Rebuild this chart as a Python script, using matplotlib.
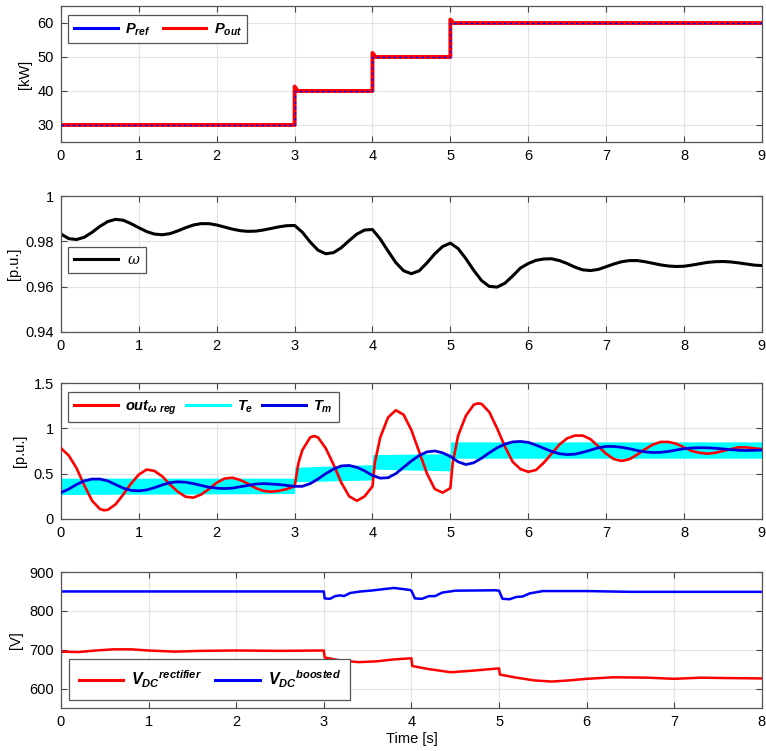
import numpy as np
import matplotlib
matplotlib.use("Agg")
import matplotlib.pyplot as plt

plt.rcParams['font.family'] = ['Liberation Sans', 'DejaVu Sans']
plt.rcParams['mathtext.fontset'] = 'custom'
plt.rcParams['mathtext.it'] = 'Liberation Sans:italic:bold'
plt.rcParams['mathtext.rm'] = 'Liberation Sans:bold'
plt.rcParams['mathtext.cal'] = 'DejaVu Serif:italic'

# power reference / output [kW]
p_t = [0, 3, 3, 4, 4, 5, 5, 9]
p_ref = [30, 30, 40, 40, 50, 50, 60, 60]
pout_t = [0, 3, 3, 3.02, 3.04, 4, 4, 4.02, 4.04, 5, 5, 5.02, 5.04, 9]
p_out = [30, 30, 41.3, 40.6, 40, 40, 51.2, 50.6, 50, 50, 61.0, 60.5, 60, 60]

# rotor speed [p.u.]
w_t = np.round(np.arange(0, 9.01, 0.1), 2)
w_val = [0.9832, 0.9812, 0.9808, 0.9818, 0.9840, 0.9866, 0.9887, 0.9897, 0.9893, 0.9878,
         0.9860, 0.9843, 0.9832, 0.9829, 0.9834, 0.9846, 0.9860, 0.9872, 0.9878, 0.9878,
         0.9872, 0.9863, 0.9854, 0.9847, 0.9844, 0.9845, 0.9850, 0.9857, 0.9864, 0.9869,
         0.9870, 0.9840, 0.9797, 0.9761, 0.9745, 0.9750, 0.9772, 0.9803, 0.9832, 0.9850,
         0.9852, 0.9810, 0.9757, 0.9706, 0.9670, 0.9657, 0.9670, 0.9705, 0.9745, 0.9777,
         0.9792, 0.9768, 0.9723, 0.9672, 0.9627, 0.9601, 0.9598, 0.9615, 0.9647, 0.9682,
         0.9702, 0.9716, 0.9722, 0.9723, 0.9715, 0.9702, 0.9686, 0.9674, 0.9671, 0.9676,
         0.9688, 0.9700, 0.9710, 0.9715, 0.9715, 0.9710, 0.9703, 0.9696, 0.9691, 0.9689,
         0.9690, 0.9695, 0.9701, 0.9707, 0.9710, 0.9711, 0.9709, 0.9705, 0.9700, 0.9695,
         0.9693]

# speed regulator output [p.u.]
reg_t = [0, 0.1, 0.2, 0.3, 0.4, 0.5, 0.55, 0.6, 0.7, 0.8, 0.9, 1.0, 1.1, 1.2, 1.3, 1.4,
         1.5, 1.6, 1.7, 1.8, 1.9, 2.0, 2.1, 2.2, 2.3, 2.4, 2.5, 2.6, 2.7, 2.8, 2.9, 3.0,
         3.05, 3.1, 3.2, 3.25, 3.3, 3.4, 3.5, 3.6, 3.7, 3.8, 3.9, 4.0,
         4.03, 4.1, 4.2, 4.3, 4.4, 4.5, 4.6, 4.7, 4.8, 4.9, 5.0,
         5.03, 5.1, 5.2, 5.3, 5.35, 5.4, 5.5, 5.6, 5.7, 5.8, 5.9, 6.0, 6.1, 6.2, 6.3,
         6.4, 6.5, 6.6, 6.7, 6.8, 6.9, 7.0, 7.1, 7.2, 7.3, 7.4, 7.5, 7.6, 7.7, 7.8,
         7.9, 8.0, 8.1, 8.2, 8.3, 8.4, 8.5, 8.6, 8.7, 8.8, 8.9, 9.0]
reg_val = [0.78, 0.70, 0.56, 0.37, 0.20, 0.11, 0.096, 0.10, 0.16, 0.27, 0.39, 0.49, 0.545,
           0.53, 0.47, 0.38, 0.30, 0.245, 0.235, 0.27, 0.33, 0.40, 0.445, 0.455, 0.43, 0.39,
           0.34, 0.31, 0.30, 0.31, 0.33, 0.36,
           0.62, 0.76, 0.90, 0.915, 0.90, 0.78, 0.60, 0.40, 0.25, 0.20, 0.25, 0.36,
           0.62, 0.90, 1.12, 1.20, 1.15, 0.98, 0.74, 0.50, 0.33, 0.29, 0.34,
           0.62, 0.92, 1.14, 1.26, 1.275, 1.27, 1.18, 1.00, 0.80, 0.63, 0.55, 0.52, 0.54,
           0.62, 0.72, 0.82, 0.89, 0.92, 0.92, 0.88, 0.80, 0.72, 0.66, 0.64, 0.66, 0.71,
           0.77, 0.82, 0.85, 0.85, 0.83, 0.79, 0.75, 0.73, 0.72, 0.73, 0.75, 0.77, 0.79,
           0.79, 0.78, 0.77]

# electromagnetic torque ripple envelope [p.u.]
te_t = [0, 3, 3, 4, 4, 5, 5, 9]
te_lo = [0.27, 0.28, 0.41, 0.43, 0.55, 0.53, 0.67, 0.67]
te_hi = [0.45, 0.45, 0.57, 0.60, 0.71, 0.72, 0.85, 0.85]

# mechanical torque [p.u.]
tm_t = np.round(np.arange(0, 9.01, 0.1), 2)
tm_val = [0.29, 0.33, 0.38, 0.42, 0.44, 0.44, 0.42, 0.38, 0.34, 0.315,
          0.31, 0.32, 0.345, 0.375, 0.40, 0.41, 0.405, 0.39, 0.37, 0.35,
          0.34, 0.335, 0.34, 0.355, 0.37, 0.385, 0.39, 0.385, 0.38, 0.37,
          0.36, 0.36, 0.39, 0.44, 0.50, 0.55, 0.585, 0.59, 0.57, 0.53,
          0.48, 0.45, 0.455, 0.50, 0.57, 0.64, 0.70, 0.74, 0.75, 0.73,
          0.69, 0.63, 0.60, 0.62, 0.67, 0.73, 0.785, 0.825, 0.85, 0.855,
          0.845, 0.815, 0.78, 0.745, 0.72, 0.71, 0.715, 0.735, 0.76, 0.785,
          0.80, 0.80, 0.79, 0.775, 0.755, 0.74, 0.733, 0.735, 0.745, 0.76,
          0.775, 0.783, 0.786, 0.785, 0.78, 0.773, 0.765, 0.758, 0.755, 0.757,
          0.76]

# DC link voltages [V]
vb_t = [0, 3.0, 3.01, 3.07, 3.13, 3.19, 3.23, 3.3, 3.42, 3.53, 3.8, 3.98, 4.0,
        4.04, 4.12, 4.2, 4.27, 4.35, 4.5, 4.96, 5.0, 5.04, 5.12, 5.2, 5.27, 5.35,
        5.5, 6.0, 6.5, 7.0, 8.0]
vb_val = [850, 850, 832, 831, 838, 840, 838, 846, 850, 852, 859, 854, 852,
          832, 831, 838, 838, 847, 852, 853, 852, 831, 830, 836, 837, 845,
          851, 851, 849, 849, 849]
vr_t = [0, 0.2, 0.4, 0.6, 0.8, 1.0, 1.3, 1.6, 2.0, 2.5, 3.0, 3.01, 3.2, 3.4, 3.6,
        3.8, 4.0, 4.01, 4.2, 4.45, 4.7, 5.0, 5.01, 5.2, 5.4, 5.6, 5.8, 6.0, 6.3,
        6.7, 7.0, 7.3, 7.6, 8.0]
vr_val = [695, 694, 698, 701, 701, 698, 695, 697, 698, 697, 698, 680, 672, 668, 670,
          675, 678, 658, 650, 642, 646, 652, 636, 628, 621, 618, 621, 625, 629,
          628, 625, 628, 627, 626]

fig = plt.figure(figsize=(7.66, 7.51), dpi=100)
left, width, height = 0.0796, 0.915, 0.181
bottoms = [0.811, 0.558, 0.309, 0.0573]
axes = [fig.add_axes([left, b, width, height]) for b in bottoms]


def style(ax):
    ax.grid(True, color='#e3e3e3', lw=0.8)
    ax.set_axisbelow(True)
    ax.tick_params(direction='in', top=True, right=True, length=4, width=0.8,
                   color='#444444', labelsize=10.5, pad=5)
    for sp in ax.spines.values():
        sp.set_color('#555555')
        sp.set_linewidth(0.9)


def legend(ax, size=10.5, hlen=3.0, **kw):
    lg = ax.legend(fancybox=False, framealpha=1, edgecolor='#555555',
                   prop={'size': size}, handlelength=hlen, **kw)
    lg.get_frame().set_linewidth(0.9)
    return lg


# power
ax = axes[0]
ax.plot(pout_t, p_out, color='red', lw=2.8, zorder=2)
ax.plot(p_t, p_ref, color='blue', lw=1.0, ls=(0, (2, 2)), zorder=3)
h1, = ax.plot([], [], color='blue', lw=2.2)
h2, = ax.plot([], [], color='red', lw=2.2)
ax.set_xlim(0, 9)
ax.set_ylim(25, 65)
ax.set_yticks([30, 40, 50, 60])
ax.set_xticks(range(10))
ax.set_ylabel('[kW]', fontsize=10.5)
style(ax)
legend(ax, handles=[h1, h2], labels=[r'$P_{ref}$', r'$P_{out}$'], ncol=2,
       loc='upper left', bbox_to_anchor=(0.0, 0.985), columnspacing=0.8,
       handletextpad=0.5)

# speed
ax = axes[1]
ax.plot(w_t, w_val, color='black', lw=2.2, label=r'$\mathcal{\omega}$')
ax.set_xlim(0, 9)
ax.set_ylim(0.94, 1.0)
ax.set_yticks([0.94, 0.96, 0.98, 1.0])
ax.set_yticklabels(['0.94', '0.96', '0.98', '1'])
ax.set_xticks(range(10))
ax.set_ylabel('[p.u.]', fontsize=10.5)
style(ax)
legend(ax, loc='center left', bbox_to_anchor=(0.0, 0.53), handletextpad=0.6)

# torques
ax = axes[2]
ax.fill_between(te_t, te_lo, te_hi, color='cyan', lw=0, zorder=2)
ax.plot(reg_t, reg_val, color='red', lw=1.9, zorder=3)
ax.plot(tm_t, tm_val, color='#0000dd', lw=2.0, zorder=4)
hr, = ax.plot([], [], color='red', lw=2.2)
hc, = ax.plot([], [], color='cyan', lw=2.2)
hb, = ax.plot([], [], color='#0000dd', lw=2.2)
ax.set_xlim(0, 9)
ax.set_ylim(0, 1.5)
ax.set_yticks([0, 0.5, 1, 1.5])
ax.set_yticklabels(['0', '0.5', '1', '1.5'])
ax.set_xticks(range(10))
ax.set_ylabel('[p.u.]', fontsize=10.5)
style(ax)
legend(ax, handles=[hr, hc, hb],
       labels=[r'$out_{\omega\ reg}$', r'$T_e$', r'$T_m$'], ncol=3,
       loc='upper left', bbox_to_anchor=(0.0, 0.985), columnspacing=0.6,
       handletextpad=0.5)

# DC voltages
ax = axes[3]
ax.plot(vb_t, vb_val, color='blue', lw=1.8)
ax.plot(vr_t, vr_val, color='red', lw=1.8)
hr, = ax.plot([], [], color='red', lw=2.2)
hb, = ax.plot([], [], color='blue', lw=2.2)
ax.set_xlim(0, 8)
ax.set_ylim(550, 900)
ax.set_yticks([600, 700, 800, 900])
ax.set_xticks(range(9))
ax.set_ylabel('[V]', fontsize=10.5)
ax.set_xlabel('Time [s]', fontsize=10.5, labelpad=2)
style(ax)
legend(ax, size=11.5, hlen=2.8, handles=[hr, hb],
       labels=[r'$V_{DC}{}^{rectifier}$', r'$V_{DC}{}^{boosted}$'], ncol=2,
       loc='lower left', bbox_to_anchor=(0.0, 0.0), columnspacing=0.8,
       handletextpad=0.5, borderpad=0.6)

for a, lx in zip(axes, [-0.041, -0.057, -0.0485, -0.054]):
    a.yaxis.set_label_coords(lx, 0.5)

fig.savefig('out.png', dpi=100)
